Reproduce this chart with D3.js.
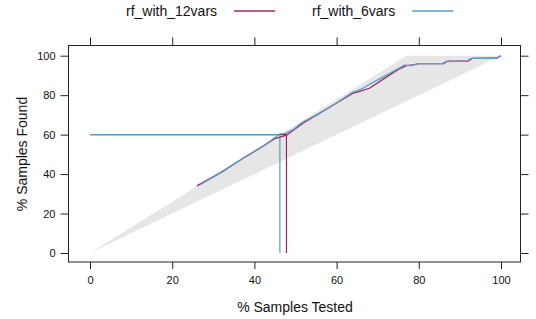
<!DOCTYPE html>
<html>
<head>
<meta charset="utf-8">
<script src="https://cdn.jsdelivr.net/npm/d3@7"></script>
<style>
  body { margin: 0; background: #fff; }
  svg { font-family: Arial, "Liberation Sans", sans-serif; }
</style>
</head>
<body>
<svg id="chart" width="536" height="319"></svg>
<script>
// lift curves (x = % samples tested, y = % samples found)
const series = ['rf_with_12vars', 'rf_with_6vars'];
const seriesColors = ['#9c2a62', '#5a9ec2'];

const rf12 = [
  [26, 34], [32, 41], [38, 49], [42, 54], [45, 58], [47.8, 59.7], [50, 63],
  [52, 66], [56, 71], [60, 76], [64, 81], [65, 81.5], [68, 83.5], [72, 89],
  [75, 93], [77, 95], [79, 95.5], [80, 96], [86, 96], [87, 97.3], [92, 97.3],
  [93, 98.6], [99, 98.7], [100, 100]
];
const rf6 = [
  [26.8, 34.6], [32, 41], [38, 49], [42, 54], [45, 58.5], [46.2, 60.4], [47.5, 60.6],
  [49.5, 62.6], [51.5, 66], [56, 71], [60, 76], [64, 81.6], [66, 83], [68, 85.5],
  [72, 90], [75, 93.5], [76.5, 95.2], [78, 95], [80, 96], [85.8, 96], [86.5, 97],
  [91.8, 97.3], [92.6, 98.6], [98.8, 98.7], [100, 100]
];
const curves = [rf12, rf6];

// reference at 60% found: where each model crosses it
const refValue = 60;
const refCuts = [47.8, 46.2];

// shaded band between perfect and random model
const perfectEdge = [[0, 0], [77, 100], [100, 100]];
const randomEdge = [[100, 100], [0, 0]];

const xTicks = [0, 20, 40, 60, 80, 100];
const yTicks = [0, 20, 40, 60, 80, 100];

const svg = d3.select('#chart');

const panel = { left: 68.5, right: 520.5, top: 45.5, bottom: 262 };
const x = d3.scaleLinear().domain([0, 100]).range([90, 501]);
const y = d3.scaleLinear().domain([0, 100]).range([253, 55.7]);

const line = d3.line().x(d => x(d[0])).y(d => y(d[1]));

// band
svg.append('path')
  .datum(perfectEdge.concat(randomEdge))
  .attr('d', line)
  .attr('fill', '#e6e6e6')
  .attr('stroke', 'none');

// reference lines (drawn under curves)
curves.forEach((c, i) => {
  svg.append('path')
    .datum([[0, refValue], [refCuts[i], refValue], [refCuts[i], 0]])
    .attr('d', line)
    .attr('fill', 'none')
    .attr('stroke', seriesColors[i])
    .attr('stroke-width', 1.2);
});

curves.forEach((c, i) => {
  svg.append('path')
    .datum(c)
    .attr('d', line)
    .attr('fill', 'none')
    .attr('stroke', seriesColors[i])
    .attr('stroke-width', 1.3)
    .attr('stroke-linejoin', 'round');
});

// panel box
svg.append('rect')
  .attr('x', panel.left).attr('y', panel.top)
  .attr('width', panel.right - panel.left).attr('height', panel.bottom - panel.top)
  .attr('fill', 'none').attr('stroke', '#222').attr('stroke-width', 1);

const styleAxis = g => {
  g.select('.domain').remove();
  g.selectAll('line').attr('stroke', '#222');
  g.selectAll('text').attr('font-size', 11).attr('fill', '#111')
    .attr('font-family', 'Arial, "Liberation Sans", sans-serif');
};

svg.append('g').attr('transform', `translate(0,${panel.bottom})`)
  .call(d3.axisBottom(x).tickValues(xTicks).tickSize(7).tickPadding(7))
  .call(styleAxis);
svg.append('g').attr('transform', `translate(0,${panel.top})`)
  .call(d3.axisTop(x).tickValues(xTicks).tickSize(8).tickFormat(''))
  .call(styleAxis);
svg.append('g').attr('transform', `translate(${panel.left},0)`)
  .call(d3.axisLeft(y).tickValues(yTicks).tickSize(8).tickPadding(5))
  .call(styleAxis);
svg.append('g').attr('transform', `translate(${panel.right},0)`)
  .call(d3.axisRight(y).tickValues(yTicks).tickSize(8).tickFormat(''))
  .call(styleAxis);

// axis titles
svg.append('text')
  .attr('x', 295).attr('y', 312)
  .attr('text-anchor', 'middle')
  .attr('font-size', 14).attr('fill', '#111')
  .text('% Samples Tested');
svg.append('text')
  .attr('transform', 'translate(27,154) rotate(-90)')
  .attr('text-anchor', 'middle')
  .attr('font-size', 14).attr('fill', '#111')
  .text('% Samples Found');

// legend
const legendX = [126, 312];
series.forEach((name, i) => {
  const g = svg.append('g').attr('transform', `translate(${legendX[i]},16)`);
  const t = g.append('text')
    .attr('x', 0).attr('y', 0)
    .attr('font-size', 14).attr('fill', '#111')
    .text(name);
  const w = t.node().getComputedTextLength();
  g.append('line')
    .attr('x1', w + 17).attr('x2', w + 58)
    .attr('y1', -5).attr('y2', -5)
    .attr('stroke', seriesColors[i]).attr('stroke-width', 1.5);
});
</script>
</body>
</html>
